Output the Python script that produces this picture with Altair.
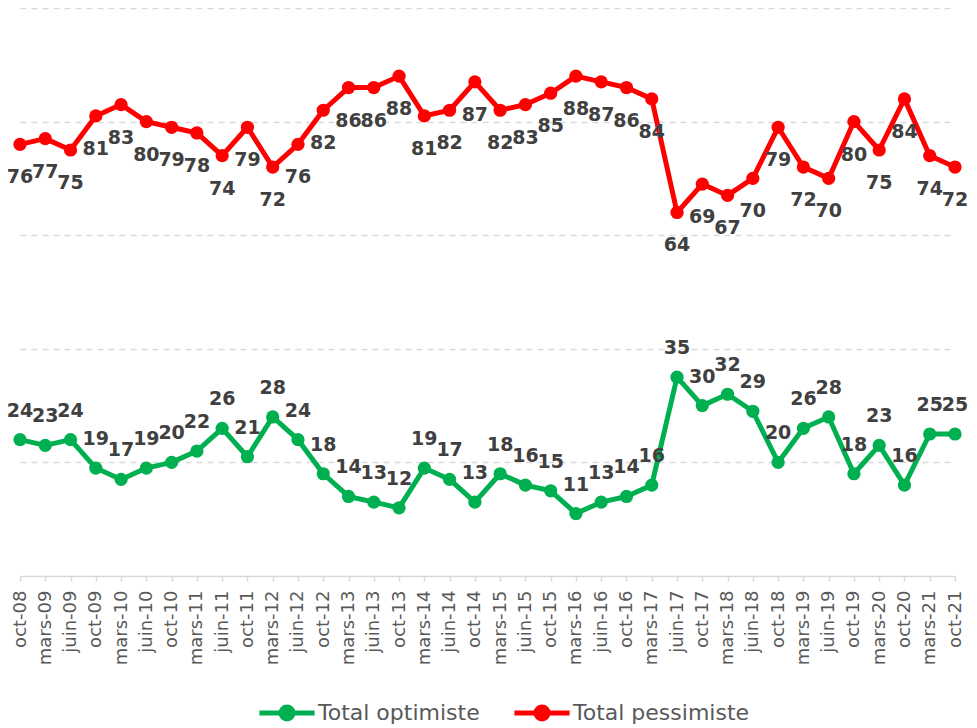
import altair as alt
import pandas as pd

mois = ["oct-08", "mars-09", "juin-09", "oct-09", "mars-10", "juin-10", "oct-10",
        "mars-11", "juin-11", "oct-11", "mars-12", "juin-12", "oct-12", "mars-13",
        "juin-13", "oct-13", "mars-14", "juin-14", "oct-14", "mars-15", "juin-15",
        "oct-15", "mars-16", "juin-16", "oct-16", "mars-17", "juin-17", "oct-17",
        "mars-18", "juin-18", "oct-18", "mars-19", "juin-19", "oct-19", "mars-20",
        "oct-20", "mars-21", "oct-21"]
optimiste = [24, 23, 24, 19, 17, 19, 20, 22, 26, 21, 28, 24, 18, 14, 13, 12, 19, 17, 13,
             18, 16, 15, 11, 13, 14, 16, 35, 30, 32, 29, 20, 26, 28, 18, 23, 16, 25, 25]
pessimiste = [76, 77, 75, 81, 83, 80, 79, 78, 74, 79, 72, 76, 82, 86, 86, 88, 81, 82, 87,
              82, 83, 85, 88, 87, 86, 84, 64, 69, 67, 70, 79, 72, 70, 80, 75, 84, 74, 72]
series = ["Total optimiste", "Total pessimiste"]
colors = ["#00B050", "#FF0000"]

rows = []
for name, vals in zip(series, [optimiste, pessimiste]):
    for m, v in zip(mois, vals):
        rows.append({"mois": m, "valeur": v, "serie": name})
df = pd.DataFrame(rows)

FONT = "DejaVu Sans"
legend_path = "M-4.6,0L4.6,0M1,0A1,1,0,1,1,-1,0A1,1,0,1,1,1,0Z"

legend = alt.Legend(
    title=None, orient="none", direction="horizontal",
    legendX=256, legendY=694,
    symbolType=legend_path, symbolSize=144, symbolStrokeWidth=5,
    labelFont=FONT, labelFontSize=22, labelColor="#595959", labelLimit=400,
    labelOffset=20, columnPadding=24,
)

color = alt.Color("serie:N", scale=alt.Scale(domain=series, range=colors), legend=legend)

x = alt.X("mois:N", sort=mois, scale=alt.Scale(type="point", padding=0),
          axis=alt.Axis(title=None, labelAngle=270, labelFont=FONT, labelFontSize=18,
                        labelColor="#595959", labelPadding=9, tickColor="#d9d9d9",
                        tickSize=5, tickWidth=1.5, domainColor="#d9d9d9", domainWidth=1.5,
                        grid=False, labelOverlap=False))
y = alt.Y("valeur:Q", scale=alt.Scale(domain=[0, 100]),
          axis=alt.Axis(title=None, labels=False, ticks=False, domain=False,
                        values=[20, 40, 60, 80, 100], gridDash=[6, 5],
                        gridColor="#d9d9d9", gridWidth=1.5))

base = alt.Chart(df)

lines = base.mark_line(strokeWidth=5, strokeJoin="round").encode(x=x, y=y, color=color, detail="serie:N")
points = base.mark_circle(size=175, opacity=1).encode(x=x, y=y, color=color)

lab_opt = base.transform_filter(alt.datum.serie == series[0]).mark_text(
    dy=-29, font=FONT, fontWeight="bold", fontSize=19, color="#404040"
).encode(x=x, y=y, text="valeur:Q")
lab_pes = base.transform_filter(alt.datum.serie == series[1]).mark_text(
    dy=33, font=FONT, fontWeight="bold", fontSize=19, color="#404040"
).encode(x=x, y=y, text="valeur:Q")

chart = alt.layer(lines, points, lab_opt, lab_pes).properties(
    width=935, height=568,
    padding={"left": 12, "top": 0, "right": 14, "bottom": 150},
    autosize=alt.AutoSizeParams(type="none"),
).configure_view(stroke=None)

chart.save("out.html", embed_options={"renderer": "svg", "actions": False})
